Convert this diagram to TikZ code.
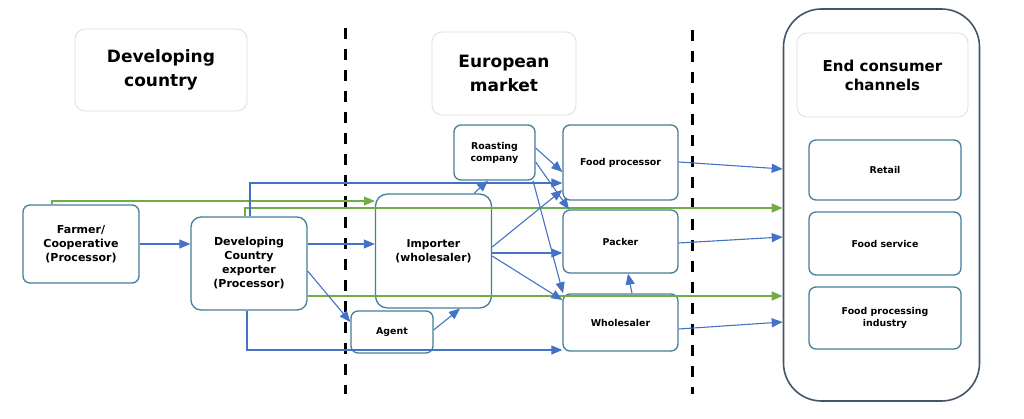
\documentclass[tikz,border=0pt]{standalone}
\usepackage{fontspec}
\setmainfont{DejaVu Sans}
\usetikzlibrary{arrows.meta}
\definecolor{boxc}{RGB}{70,125,155}
\definecolor{bluec}{RGB}{68,114,196}
\definecolor{greenc}{RGB}{112,173,71}
\definecolor{outerc}{RGB}{68,84,106}
\definecolor{ttlc}{RGB}{222,222,222}
\tikzset{
  box/.style={draw=boxc, line width=1.3pt, rounded corners=7pt, fill=white, inner sep=0pt, align=center, font=\bfseries\fontsize{9.4}{12}\selectfont},
  bigtext/.style={font=\bfseries\fontsize{11}{14}\selectfont},
  ttl/.style={draw=ttlc, line width=0.8pt, rounded corners=10pt, fill=white, inner sep=0pt, align=center, font=\bfseries\fontsize{17}{24}\selectfont},
  barrow/.style={draw=bluec, line width=1.1pt, -{Triangle[length=11pt,width=9pt]}},
  garrow/.style={draw=greenc, line width=1.1pt, -{Triangle[length=11pt,width=9pt]}},
  divider/.style={draw=black, line width=3pt, dash pattern=on 11pt off 10pt}
}
\begin{document}
\begin{tikzpicture}[x=1pt,y=-1pt]
\useasboundingbox (0,0) rectangle (1024,419);
% outer container
\node[draw=outerc, line width=1.6pt, rounded corners=38pt, minimum width=196pt, minimum height=392pt, inner sep=0pt] (outer) at (881.5,205) {};
% titles
\node[ttl, minimum width=172pt, minimum height=82pt] (devt) at (161,70) {Developing\\country};
\node[ttl, minimum width=144pt, minimum height=83pt] (eut) at (504,73.5) {European\\market};
\node[ttl, minimum width=171pt, minimum height=84pt, font=\bfseries\fontsize{15}{19}\selectfont] (endt) at (882.5,75) {End consumer\\channels};
% dividers
\coordinate (d1a) at (345,28); \coordinate (d1b) at (345,394);
\coordinate (d2a) at (692,30); \coordinate (d2b) at (692,394);
\draw[divider] (d1a) -- (d1b);
\draw[divider] (d2a) -- (d2b);
% boxes
\node[box, bigtext, minimum width=116pt, minimum height=78pt] (farmer) at (81,244) {Farmer/\\Cooperative\\(Processor)};
\node[box, bigtext, rounded corners=10pt, minimum width=116pt, minimum height=93pt] (dce) at (249,263.5) {Developing\\Country\\exporter\\(Processor)};
\node[box, rounded corners=12pt, minimum width=116pt, minimum height=114pt, font=\bfseries\fontsize{10.8}{14}\selectfont] (imp) at (433.5,251) {Importer\\(wholesaler)};
\node[box, minimum width=82pt, minimum height=42pt] (agent) at (392,332) {Agent};
\node[box, minimum width=81pt, minimum height=55pt] (roast) at (494.5,152.5) {Roasting\\company};
\node[box, minimum width=115pt, minimum height=75pt] (fp) at (620.5,162.5) {Food processor};
\node[box, minimum width=115pt, minimum height=63pt] (packer) at (620.5,241.5) {Packer};
\node[box, minimum width=115pt, minimum height=57pt] (whole) at (620.5,322.5) {Wholesaler};
\node[box, minimum width=152pt, minimum height=60pt] (retail) at (885,170) {Retail};
\node[box, minimum width=152pt, minimum height=63pt] (fserv) at (885,243.5) {Food service};
\node[box, minimum width=152pt, minimum height=62pt] (fpi) at (885,318) {Food processing\\industry};
% green connectors
\draw[garrow] (farmer.north -| 52,0) |- (imp.west |- 0,201);
\draw[garrow] (dce.north -| 245,0) |- (outer.west |- 0,208);
\draw[garrow] (dce.east |- 0,296) -- (outer.west |- 0,296);
% blue connectors
\draw[barrow] (farmer.east) -- (farmer.east -| dce.west);
\draw[barrow] (dce.east |- 0,244) -- (imp.west |- 0,244);
\draw[barrow] (dce.east |- 0,271) -- (agent.west |- 0,322);
\draw[barrow] (agent.east |- 0,330) -- (imp.south -| 460,0);
\draw[barrow] (imp.north -| 474,0) -- (roast.south -| 488,0);
\draw[barrow] (imp.east |- 0,247) -- (fp.west |- 0,190);
\draw[barrow] (imp.east |- 0,253) -- (packer.west |- 0,253);
\draw[barrow] (imp.east |- 0,256) -- (whole.west |- 0,300);
\draw[barrow] (roast.east |- 0,148) -- (fp.west |- 0,172);
\draw[barrow] (roast.east |- 0,162) -- (packer.north -| 569,0);
\draw[barrow] (roast.south -| 533,0) -- (whole.north -| 563,0);
\draw[barrow] (dce.north -| 250,0) |- (fp.west |- 0,183);
\draw[barrow] (dce.south -| 247,0) |- (whole.west |- 0,350);
\draw[barrow] (whole.north -| 632,0) -- (packer.south -| 628,0);
\draw[barrow] (fp.east |- 0,162) -- (outer.west |- 0,169);
\draw[barrow] (packer.east |- 0,243) -- (outer.west |- 0,237);
\draw[barrow] (whole.east |- 0,329) -- (outer.west |- 0,322);
\end{tikzpicture}
\end{document}
